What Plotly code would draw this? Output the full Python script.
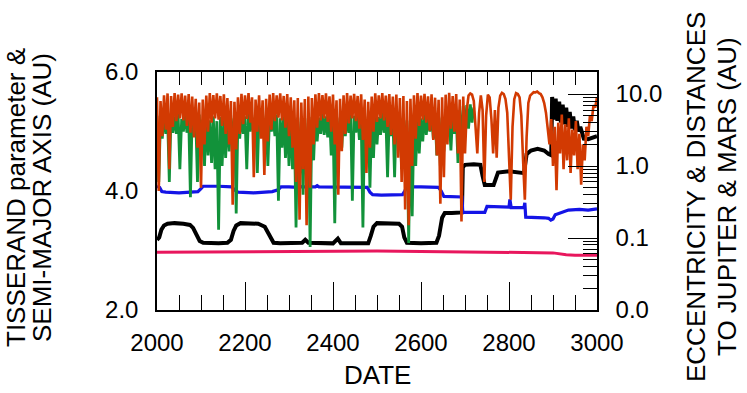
import plotly.graph_objects as go

# ------------------------------------------------------------------ data
SAMPLE_START = 2000      # first sample date of the distance series
SAMPLE_STEP = 4          # years between samples of the distance series

# distance to Jupiter (AU), one value every 4 years from 2000 to 3000
RED_JUPITER_AU = [
    9.0, 0.45, 8.0, 2.6, 9.6, 3.2, 10.2, 0.9, 9.4, 3.5, 10.3, 4.2, 9.8, 4.6, 10.2, 4.3,
    9.5, 3.6, 10.0, 2.9, 9.2, 2.5, 8.6, 1.8, 7.6, 0.5, 8.4, 2.0, 9.5, 3.0, 10.3, 4.0,
    9.7, 4.6, 10.2, 4.4, 9.4, 3.6, 9.9, 2.8, 8.8, 2.0, 8.0, 0.29, 7.8, 1.7, 9.0, 2.8,
    10.1, 3.8, 9.6, 4.5, 10.3, 4.0, 9.0, 0.7, 8.4, 3.0, 9.6, 2.4, 8.2, 0.75, 8.6, 2.2,
    9.8, 3.2, 10.3, 4.2, 9.6, 4.7, 10.2, 4.3, 9.4, 3.4, 10.0, 2.6, 9.0, 1.8, 8.2, 0.6,
    8.8, 0.18, 7.6, 0.9, 8.5, 0.15, 9.2, 0.5, 8.8, 2.0, 9.9, 3.4, 10.3, 4.3, 9.7, 4.6,
    10.2, 4.1, 9.3, 3.0, 9.8, 2.0, 8.2, 0.4, 8.6, 1.6, 9.6, 2.8, 10.3, 3.9, 9.5, 4.6,
    10.1, 4.2, 9.4, 3.3, 9.9, 2.3, 8.4, 0.8, 7.8, 1.8, 9.2, 3.0, 10.2, 4.1, 9.6, 4.6,
    10.3, 4.3, 9.5, 3.5, 10.0, 2.7, 9.2, 2.0, 9.8, 1.3, 8.8, 0.6, 9.4, 0.25, 8.0, 0.15,
    8.6, 1.0, 9.6, 2.4, 10.3, 3.6, 9.5, 4.4, 10.1, 4.0, 9.3, 3.1, 9.9, 2.3, 8.9, 1.4,
    8.3, 0.3, 9.0, 0.7, 9.8, 2.0, 10.4, 3.3, 9.4, 3.0, 10.0, 1.5, 8.4, 0.17, 9.2, 1.5,
    6.0, 9.5, 10.2, 9.8, 8.0, 4.0, 1.5, 5.5,
    9.6, 6.0, 0.6, 5.0, 9.8, 9.0, 4.5, 1.5,
    6.0, 1.3, 6.5, 9.5, 10.4, 10.0, 8.5, 5.5,
    1.5, 0.34, 3.5, 8.5, 10.3, 10.0, 9.0, 5.0,
    1.2, 0.34, 2.5, 7.5, 9.5, 10.2, 10.6, 10.5,
    10.8, 10.3, 10.0, 9.0, 7.5, 5.5, 3.5, 2.0,
    4.5, 1.0, 3.5, 0.46, 4.0, 1.5, 5.2, 0.9,
    3.8, 1.2, 4.6, 0.8, 3.2, 1.4, 4.2, 0.9,
    2.8, 0.55, 2.0, 1.2, 3.5, 2.6, 5.0, 4.2,
    7.0, 6.5, 9.0,
]

# distance to Mars (AU), one value every 4 years from 2000 to 2720
GREEN_MARS_AU = [
    5.0, 0.6, 4.6, 2.4, 5.4, 2.8, 4.8, 0.6, 5.5, 2.9, 4.9, 2.8, 5.3, 0.9, 4.5, 3.0,
    5.4, 2.9, 4.8, 0.37, 5.5, 2.6, 4.6, 0.6, 5.2, 2.0, 4.4, 1.0, 5.0, 1.4, 4.3, 1.1,
    4.9, 0.9, 4.2, 0.13, 4.8, 1.0, 4.5, 1.3, 5.1, 1.6, 4.6, 2.0, 5.3, 0.22, 4.8, 2.4,
    5.5, 2.8, 4.9, 0.9, 5.4, 3.0, 4.7, 2.9, 5.5, 0.8, 5.0, 3.1, 5.3, 3.0, 4.6, 1.0,
    5.4, 3.0, 4.8, 2.6, 5.2, 0.33, 4.6, 1.8, 5.0, 1.3, 4.3, 1.0, 4.8, 0.9, 4.2, 0.14,
    4.7, 0.7, 4.1, 0.4, 4.6, 0.6, 4.0, 0.075, 4.8, 1.2, 5.2, 2.2, 4.7, 2.8, 5.4, 2.7,
    4.9, 2.5, 5.3, 1.4, 4.5, 0.16, 5.0, 1.2, 4.7, 1.8, 5.4, 2.6, 4.9, 2.9, 5.5, 0.33,
    5.0, 2.9, 5.3, 2.3, 4.6, 0.14, 4.9, 1.2, 4.4, 0.5, 5.0, 1.3, 5.3, 2.0, 4.8, 2.7,
    5.5, 2.9, 4.9, 0.7, 5.4, 2.6, 4.7, 0.7, 5.2, 2.2, 4.6, 0.9, 5.0, 1.2, 4.3, 0.085,
    4.8, 0.2, 4.5, 1.0, 5.1, 1.5, 4.6, 2.2, 5.4, 2.7, 5.0, 3.0, 5.5, 2.4, 4.8, 1.4,
    5.2, 1.0, 4.7, 1.6, 5.4, 2.6, 4.9, 1.65, 5.5, 2.8, 5.0, 1.1, 6.0, 2.0, 6.8, 3.0,
    7.0, 3.3, 7.2, 4.0, 6.5,
]

# semi-major axis (AU)
BLACK_YEARS = [2000, 2005, 2010, 2016, 2024, 2040, 2060, 2075, 2082, 2090, 2097, 2105,
               2120, 2140, 2160, 2168, 2174, 2180, 2190, 2210, 2230, 2245, 2252, 2258,
               2265, 2280, 2300, 2330, 2337, 2344, 2400, 2411, 2418, 2480, 2486, 2492,
               2500, 2520, 2550, 2557, 2562, 2568, 2600, 2635, 2641, 2648, 2654, 2670,
               2693, 2695, 2700, 2720, 2735, 2740, 2745, 2765, 2770, 2775, 2800, 2825,
               2834, 2840, 2850, 2865, 2880, 2890, 2896, 2898, 2902, 2906, 2910, 2914,
               2918, 2922, 2926, 2930, 2934, 2938, 2942, 2946, 2950, 2954, 2958, 2962,
               2966, 2970, 2980, 2990, 3000]
BLACK_AU = [3.18, 3.22, 3.35, 3.42, 3.45, 3.46, 3.45, 3.43, 3.38, 3.25, 3.16, 3.13,
            3.12, 3.12, 3.13, 3.18, 3.33, 3.42, 3.46, 3.46, 3.45, 3.40, 3.30, 3.20,
            3.13, 3.12, 3.13, 3.13, 3.18, 3.13, 3.12, 3.20, 3.12, 3.12, 3.25, 3.40,
            3.46, 3.46, 3.45, 3.40, 3.22, 3.13, 3.12, 3.13, 3.25, 3.55, 3.63, 3.63,
            3.64, 4.40, 4.44, 4.45, 4.44, 4.25, 4.10, 4.10, 4.20, 4.31, 4.33, 4.32,
            4.30, 4.62, 4.68, 4.71, 4.68, 4.62, 4.60, 5.58, 5.20, 5.55, 5.18, 5.50,
            5.15, 5.45, 5.12, 5.40, 5.08, 5.33, 5.05, 5.25, 5.02, 5.18, 5.00, 5.08,
            4.97, 4.88, 4.87, 4.90, 4.92]

# second left-axis quantity (blue)
BLUE_YEARS = [2000, 2006, 2011, 2020, 2050, 2080, 2093, 2100, 2105, 2140, 2170, 2176,
              2184, 2220, 2250, 2262, 2275, 2282, 2300, 2320, 2324, 2328, 2360, 2364,
              2368, 2400, 2478, 2484, 2490, 2510, 2540, 2558, 2563, 2568, 2600, 2640,
              2646, 2652, 2693, 2695, 2745, 2750, 2800, 2802, 2805, 2834, 2836, 2838,
              2880, 2890, 2895, 2900, 2905, 2915, 2925, 2935, 2960, 2980, 3000]
BLUE_VAL = [4.08, 4.06, 3.99, 3.98, 3.97, 3.98, 3.99, 4.04, 4.08, 4.08, 4.07, 4.02,
            3.98, 3.97, 3.98, 3.99, 4.02, 4.07, 4.07, 4.06, 4.09, 4.07, 4.07, 4.09,
            4.07, 4.07, 4.06, 3.98, 3.94, 3.93, 3.93, 3.94, 4.00, 4.07, 4.07, 4.06,
            4.00, 3.91, 3.90, 3.64, 3.64, 3.74, 3.73, 3.86, 3.72, 3.72, 3.80, 3.56,
            3.55, 3.54, 3.51, 3.53, 3.60, 3.63, 3.66, 3.68, 3.69, 3.68, 3.70]

# Tisserand parameter (magenta)
PINK_YEARS = [2000, 2100, 2200, 2300, 2400, 2500, 2600, 2700, 2800, 2880, 2900, 2930, 2950, 3000]
PINK_T = [2.97, 2.975, 2.98, 2.985, 2.99, 2.99, 2.985, 2.98, 2.975, 2.97, 2.96, 2.93, 2.92, 2.92]

X_TICKS = [2000, 2200, 2400, 2600, 2800, 3000]
LEFT_TICKS = [2.0, 4.0, 6.0]
LEFT_TICKTEXT = ["2.0", "4.0", "6.0"]
RIGHT_TICKS = [0.01, 0.1, 1.0, 10.0]
RIGHT_TICKTEXT = ["0.0", "0.1", "1.0", "10.0"]
RIGHT_MINOR = [0.02, 0.03, 0.04, 0.05, 0.06, 0.07, 0.08, 0.09,
               0.2, 0.3, 0.4, 0.5, 0.6, 0.7, 0.8, 0.9,
               2, 3, 4, 5, 6, 7, 8, 9, 20]

red_years = [SAMPLE_START + SAMPLE_STEP * i for i in range(len(RED_JUPITER_AU))]
green_years = [SAMPLE_START + SAMPLE_STEP * i for i in range(len(GREEN_MARS_AU))]

# ------------------------------------------------------------------ figure
FONT = "Liberation Sans, Arial, sans-serif"
fig = go.Figure()

fig.add_trace(go.Scatter(x=green_years, y=GREEN_MARS_AU, yaxis="y2", mode="lines",
                         line=dict(color="#12923a", width=2.8), hoverinfo="skip"))
fig.add_trace(go.Scatter(x=red_years, y=RED_JUPITER_AU, yaxis="y2", mode="lines",
                         line=dict(color="#d23a02", width=2.6), hoverinfo="skip"))
fig.add_trace(go.Scatter(x=BLACK_YEARS, y=BLACK_AU, mode="lines",
                         line=dict(color="black", width=4), hoverinfo="skip"))
fig.add_trace(go.Scatter(x=BLUE_YEARS, y=BLUE_VAL, mode="lines",
                         line=dict(color="#1414e6", width=3.2), hoverinfo="skip"))
fig.add_trace(go.Scatter(x=PINK_YEARS, y=PINK_T, mode="lines",
                         line=dict(color="#e8175d", width=3), hoverinfo="skip"))
# carrier for the top axis
fig.add_trace(go.Scatter(x=[2000], y=[2.0], xaxis="x2", mode="markers",
                         marker=dict(size=1, opacity=0), hoverinfo="skip"))

fig.update_layout(
    width=747, height=393,
    margin=dict(l=157, r=150, t=72, b=83),
    plot_bgcolor="white", paper_bgcolor="white",
    showlegend=False,
    font=dict(family=FONT, size=24, color="black"),
    xaxis=dict(range=[2000, 3000], tickvals=X_TICKS, ticks="inside", ticklen=28,
               tickwidth=1.3, tickcolor="black", showline=True, linecolor="black",
               linewidth=1.5, showgrid=False, zeroline=False,
               tickfont=dict(size=24), ticklabelstandoff=10,
               minor=dict(ticks="inside", ticklen=15, dtick=50, tick0=2000,
                          tickcolor="black", tickwidth=1.3, showgrid=False)),
    xaxis2=dict(range=[2000, 3000], overlaying="x", side="top", ticks="inside",
                ticklen=13, tickwidth=1.3, tickcolor="black", dtick=50, tick0=2000,
                showticklabels=False, showline=True, linecolor="black", linewidth=1.5,
                showgrid=False, zeroline=False),
    yaxis=dict(range=[2, 6], tickvals=LEFT_TICKS, ticktext=LEFT_TICKTEXT, ticks="",
               showline=True, linecolor="black", linewidth=1.5, showgrid=False,
               zeroline=False, tickfont=dict(size=24), ticklabelstandoff=12),
    yaxis2=dict(type="log", range=[-2, 1.306], overlaying="y", side="right",
                tickvals=RIGHT_TICKS, ticktext=RIGHT_TICKTEXT, ticks="inside",
                ticklen=29, tickwidth=1.3, tickcolor="black", showline=True,
                linecolor="black", linewidth=1.5, showgrid=False, zeroline=False,
                tickfont=dict(size=24), ticklabelstandoff=12,
                minor=dict(tickmode="array", tickvals=RIGHT_MINOR, ticks="inside",
                           ticklen=14, tickcolor="black", tickwidth=1.3, showgrid=False)),
)

def px_x(p):
    return (p - 157) / 440.0

def px_y(p):
    return (310 - p) / 238.0

annotations = [
    dict(text="DATE", x=0.5, y=px_y(375), size=26, angle=0),
    dict(text="TISSERAND parameter &", x=px_x(16), y=px_y(198), size=26, angle=-90),
    dict(text="SEMI-MAJOR AXIS (AU)", x=px_x(42), y=px_y(198), size=26, angle=-90),
    dict(text="ECCENTRICITY & DISTANCES", x=px_x(696), y=px_y(197), size=26, angle=-90),
    dict(text="TO JUPITER & MARS (AU)", x=px_x(727), y=px_y(197), size=26, angle=-90),
]
for a in annotations:
    fig.add_annotation(text=a["text"], x=a["x"], y=a["y"], xref="paper", yref="paper",
                       xanchor="center", yanchor="middle", showarrow=False,
                       textangle=a["angle"], font=dict(family=FONT, size=a["size"], color="black"))

fig.write_html("out.html", config={"displayModeBar": False},
               post_script="document.body.style.margin='0';document.body.style.padding='0';")
